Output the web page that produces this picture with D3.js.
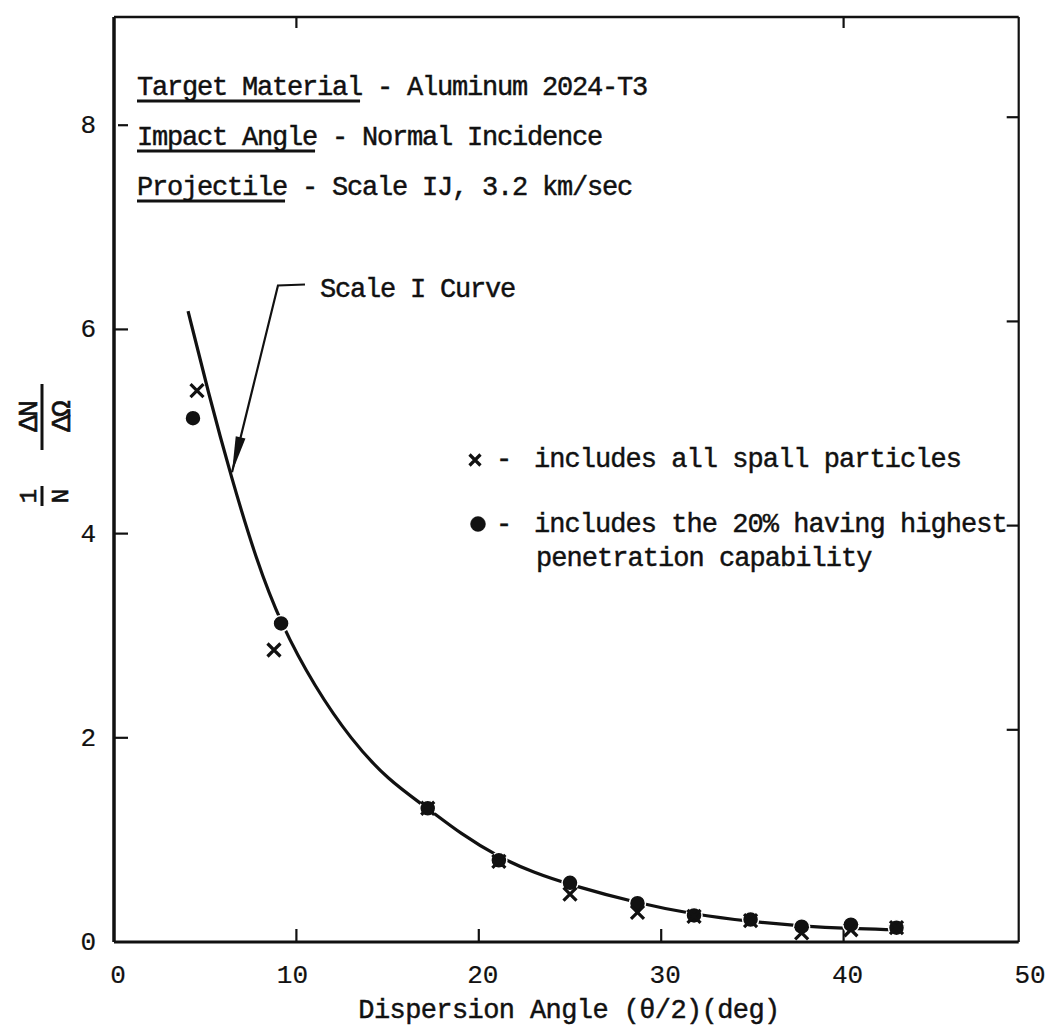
<!DOCTYPE html>
<html><head><meta charset="utf-8">
<script src="https://cdn.jsdelivr.net/npm/d3@7"></script>
<style>body{margin:0;background:#fff}svg{display:block}text{white-space:pre}</style>
</head><body><svg id="c" width="1054" height="1029"></svg>
<script>
// ---- data ----
const xTickVals=[0,10,20,30,40,50];
const yTickVals=[0,2,4,6,8];
const bottomInnerTicks=[10,20,30,40];
const topInnerTicks=[10,40];
const sideInnerTicks=[2,4,6,8];
// x - includes all spall particles
const spallX=[4.55,8.77,17.2,21.1,25.0,28.7,31.8,34.9,37.7,40.4,42.9];
const spallY=[5.40,2.86,1.31,0.79,0.47,0.29,0.25,0.21,0.09,0.12,0.14];
// dot - includes the 20% having highest penetration capability
const topX=[4.33,9.16,17.2,21.1,25.0,28.7,31.8,34.9,37.7,40.4,42.9];
const topY=[5.13,3.12,1.31,0.80,0.58,0.38,0.26,0.22,0.15,0.17,0.14];
// Scale I curve
const curveX=[4.06,5.2,6.4,7.8,9.16,11.0,13.0,15.0,17.2,19.0,21.1,23.0,25.0,28.7,31.8,34.9,37.7,40.4,42.7];
const curveY=[6.18,5.36,4.57,3.74,3.11,2.50,1.98,1.59,1.31,1.06,0.83,0.68,0.56,0.38,0.27,0.20,0.155,0.13,0.12];
const titleLines=[["Target Material"," - Aluminum 2024-T3"],["Impact Angle"," - Normal Incidence"],["Projectile"," - Scale IJ, 3.2 km/sec"]];
const legendLines=["includes all spall particles","includes the 20% having highest","penetration capability"];
const xLabel="Dispersion Angle (\u03B8/2)(deg)";
const annoText="Scale I Curve";
// annotation leader in data units: text start, elbow, arrow tip
const annoPts=[[10.47,6.44],[8.99,6.43],[6.47,4.60]];
const annoTextPos=[11.29,6.32];

// ---- layout ----
const FONT='"Liberation Mono", "DejaVu Sans Mono", monospace';
const INK='#111';
const svg=d3.select('#c');
const x=d3.scaleLinear().domain([0,50]).range([114,1026]);
const y=d3.scaleLinear().domain([0,9.06]).range([942,17]);
const txt=(g,size,adv=15)=>g.attr('font-family',FONT).attr('font-size',size).attr('fill',INK)
  .attr('stroke',INK).attr('stroke-width',0.45).attr('letter-spacing',(adv-0.6*size)+'px');

// frame
const L=x(0),R=x(49.6),T=y(9.06),B=y(0);
svg.append('line').attr('x1',L).attr('x2',L).attr('y1',T).attr('y2',B).attr('stroke',INK).attr('stroke-width',3.5);
svg.append('line').attr('x1',L).attr('x2',R).attr('y1',B).attr('y2',B).attr('stroke',INK).attr('stroke-width',3);
svg.append('line').attr('x1',L).attr('x2',R).attr('y1',T).attr('y2',T).attr('stroke',INK).attr('stroke-width',2.5);
svg.append('line').attr('x1',R).attr('x2',R).attr('y1',T).attr('y2',B).attr('stroke',INK).attr('stroke-width',2.2);

// inner ticks
const tk=svg.append('g').attr('stroke',INK).attr('stroke-width',2.2);
bottomInnerTicks.forEach(v=>tk.append('line').attr('x1',x(v)).attr('x2',x(v)).attr('y1',B).attr('y2',B-13));
topInnerTicks.forEach(v=>tk.append('line').attr('x1',x(v)).attr('x2',x(v)).attr('y1',T).attr('y2',T+11));
sideInnerTicks.forEach(v=>{
  tk.append('line').attr('x1',L+(v===8?4:0)).attr('x2',L+14).attr('y1',y(v)).attr('y2',y(v));
  tk.append('line').attr('x1',R).attr('x2',R-12).attr('y1',y(v)-8).attr('y2',y(v)-8);
});

// tick labels
const tl=svg.append('g').attr('font-family',FONT).attr('font-size',26).attr('fill',INK).attr('stroke',INK).attr('stroke-width',0.2);
xTickVals.forEach(v=>tl.append('text').attr('x',x(v)+(v===10?-4:4)).attr('y',983).attr('text-anchor','middle').text(v));
yTickVals.forEach(v=>tl.append('text').attr('x',96).attr('y',y(v)+8).attr('text-anchor','end').text(v));

// x label
txt(svg.append('text'),27).attr('x',569).attr('y',1018).attr('text-anchor','middle').attr('letter-spacing','-0.6px').text(xLabel);

// y label (rotated fractions)
const yl=svg.append('g').attr('transform','translate(42,458) rotate(-90)')
  .attr('font-family',FONT).attr('fill',INK).attr('stroke',INK).attr('stroke-width',0.6);
yl.append('line').attr('x1',8).attr('x2',74).attr('y1',0).attr('y2',0).attr('stroke-width',3);
yl.append('text').attr('x',41).attr('y',-5).attr('text-anchor','middle').attr('font-size',28).attr('letter-spacing','-2px').text('\u0394N');
yl.append('text').attr('x',41).attr('y',28).attr('text-anchor','middle').attr('font-size',28).attr('letter-spacing','-2px').text('\u0394\u03A9');
yl.append('line').attr('x1',-48).attr('x2',-28).attr('y1',0).attr('y2',0).attr('stroke-width',3);
yl.append('text').attr('x',-38).attr('y',-6).attr('text-anchor','middle').attr('font-size',24).text('1');
yl.append('text').attr('x',-38).attr('y',26).attr('text-anchor','middle').attr('font-size',24).text('N');

// title block
const tg=txt(svg.append('g'),27);
titleLines.forEach((ln,i)=>{
  const by=95+i*50;
  const a=tg.append('text').attr('x',137).attr('y',by).text(ln[0]);
  const w=a.node().getComputedTextLength();
  tg.append('text').attr('x',137+w).attr('y',by).text(ln[1]);
  tg.append('line').attr('x1',137).attr('x2',137+w-2).attr('y1',by+6).attr('y2',by+6).attr('stroke',INK).attr('stroke-width',3);
});

// curve
svg.append('path').datum(curveX.map((v,i)=>[v,curveY[i]]))
  .attr('d',d3.line().x(d=>x(d[0])).y(d=>y(d[1])).curve(d3.curveBasis))
  .attr('fill','none').attr('stroke',INK).attr('stroke-width',3.2);

// markers
const xPath=s=>`M${-s},${-s}L${s},${s}M${-s},${s}L${s},${-s}`;
svg.append('g').selectAll('circle').data(topX.map((v,i)=>[v,topY[i]])).join('circle')
  .attr('cx',d=>x(d[0])).attr('cy',d=>y(d[1])).attr('r',8).attr('fill',INK)
  .attr('stroke','#fff').attr('stroke-width',1.5);
svg.append('g').selectAll('path').data(spallX.map((v,i)=>[v,spallY[i]])).join('path')
  .attr('transform',d=>`translate(${x(d[0])},${y(d[1])})`).attr('d',xPath(6.5))
  .attr('stroke',INK).attr('stroke-width',3.2).attr('fill','none');

// annotation
const ap=annoPts.map(p=>[x(p[0]),y(p[1])]);
svg.append('path').attr('d',d3.line()(ap)).attr('fill','none').attr('stroke',INK).attr('stroke-width',2.2);
{
  const [p1,p2]=[ap[1],ap[2]];
  const dx=p2[0]-p1[0],dy=p2[1]-p1[1],len=Math.hypot(dx,dy),ux=dx/len,uy=dy/len;
  const hl=36,hw=5;
  const bx=p2[0]-ux*hl,by=p2[1]-uy*hl;
  svg.append('path').attr('d',`M${p2[0]},${p2[1]}L${bx-uy*hw},${by+ux*hw}L${bx+uy*hw},${by-ux*hw}Z`).attr('fill',INK);
}
txt(svg.append('text'),27).attr('x',x(annoTextPos[0])).attr('y',y(annoTextPos[1])).text(annoText);

// legend
const lg=txt(svg.append('g'),27,15.25);
lg.append('path').attr('transform','translate(475,460)').attr('d',xPath(5.5)).attr('stroke',INK).attr('stroke-width',3.2);
lg.append('circle').attr('cx',478).attr('cy',524).attr('r',7.5).attr('fill',INK);
lg.append('text').attr('x',496).attr('y',467).text('-');
lg.append('text').attr('x',496).attr('y',532).text('-');
lg.append('text').attr('x',534).attr('y',467).text(legendLines[0]);
lg.append('text').attr('x',534).attr('y',532).text(legendLines[1]);
lg.append('text').attr('x',536).attr('y',566).text(legendLines[2]);
</script></body></html>
